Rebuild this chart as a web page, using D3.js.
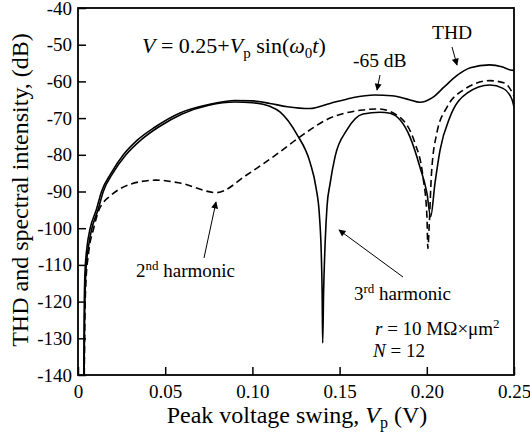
<!DOCTYPE html>
<meta charset="utf-8">

<head>
  <title>THD and harmonics vs peak voltage</title>
</head>

<body style="margin:0">
  <svg width="530" height="435" font-family="Liberation Serif"></svg>

  <script src="https://cdn.jsdelivr.net/npm/d3@7"></script>
  <script>
    // values: [Vp (V), dB]
    var thd = [
      [0.0033, -140], [0.0035, -125], [0.004, -112], [0.0052, -105], [0.007, -100],
      [0.0105, -95], [0.0135, -90], [0.019, -85], [0.026, -80], [0.034, -76],
      [0.044, -72.5], [0.0585, -68.6], [0.075, -66.3], [0.09, -65.2], [0.10, -65.3],
      [0.11, -66], [0.12, -66.9], [0.133, -67.4], [0.1445, -66], [0.157, -64.5],
      [0.17, -63.7], [0.18, -63.9], [0.19, -65], [0.196, -65.7], [0.203, -64.5],
      [0.21, -61.5], [0.217, -58.5], [0.225, -56.3], [0.236, -55.5], [0.243, -56],
      [0.248, -56.9], [0.25, -57]
    ];
    var harm2 = [
      [0.0036, -140], [0.0038, -130], [0.0045, -115], [0.006, -107], [0.009, -100],
      [0.0125, -94.5], [0.0142, -93.2], [0.018, -91.4], [0.03, -88], [0.0447, -86.9],
      [0.0585, -87.7], [0.0795, -90.3], [0.0967, -85.5], [0.1158, -79.2], [0.1273, -75.1],
      [0.1445, -70], [0.163, -67.8], [0.172, -67.5], [0.1829, -69.2], [0.1932, -76.8],
      [0.1978, -86], [0.2001, -97], [0.2006, -105.5], [0.2013, -100], [0.2027, -85],
      [0.2058, -74], [0.2116, -67], [0.2208, -62.4], [0.2362, -59.8], [0.2448, -60.5],
      [0.25, -64]
    ];
    var harm3 = [
      [0.0035, -140], [0.0038, -125], [0.0045, -112], [0.006, -105], [0.008, -100],
      [0.0115, -95], [0.0145, -90], [0.02, -85], [0.0275, -80], [0.036, -76],
      [0.046, -72.5], [0.06, -68.8], [0.075, -66.5], [0.09, -65.6], [0.10, -65.8],
      [0.11, -66.8], [0.1158, -68.3], [0.1256, -74.5], [0.133, -82], [0.1365, -89],
      [0.1385, -97], [0.1395, -107], [0.14, -118], [0.1403, -131.3], [0.1408, -118],
      [0.1418, -103], [0.1428, -94], [0.1445, -88], [0.1474, -80.5], [0.1541, -73.3],
      [0.1634, -68.9], [0.1732, -68.4], [0.1789, -68.7], [0.1904, -75.2], [0.1961, -83.4],
      [0.2001, -90.5], [0.2022, -96.9], [0.2047, -87.7], [0.2076, -78.7], [0.2133, -69.7],
      [0.2231, -63.2], [0.2362, -61], [0.2437, -61.9], [0.2489, -65], [0.25, -67]
    ];
    var xTicks = [0, 0.05, 0.10, 0.15, 0.20, 0.25];
    var xTickLabels = ['0', '0.05', '0.10', '0.15', '0.20', '0.25'];
    var yTicks = [-140, -130, -120, -110, -100, -90, -80, -70, -60, -50, -40];

    function font(size, italic) {
      return "font-family:'Liberation Serif';font-size:" + size + "px" +
        (italic ? ";font-style:italic" : "");
    }

    var xScale = d3.scaleLinear().domain([0, 0.25]).range([78, 514]);
    var yScale = d3.scaleLinear().domain([-140, -40]).range([375, 8]);

    var svg = d3.select('svg');

    svg.append('defs').append('clipPath').attr('id', 'plot')
      .append('rect')
      .attr('x', 78).attr('y', 8)
      .attr('width', 436).attr('height', 367);

    var lineGenerator = d3.line()
      .x(d => xScale(d[0]))
      .y(d => yScale(d[1]))
      .curve(d3.curveMonotoneX);

    var curves = svg.append('g').attr('clip-path', 'url(#plot)');
    curves.append('path').datum(harm2)
      .attr('d', lineGenerator)
      .attr('fill', 'none')
      .attr('stroke', '#000')
      .attr('stroke-width', 1.6)
      .attr('stroke-dasharray', '7,4');
    curves.append('path').datum(harm3)
      .attr('d', lineGenerator)
      .attr('fill', 'none')
      .attr('stroke', '#000')
      .attr('stroke-width', 1.6);
    curves.append('path').datum(thd)
      .attr('d', lineGenerator)
      .attr('fill', 'none')
      .attr('stroke', '#000')
      .attr('stroke-width', 1.6);

    // axes, ticks pointing inward
    var xAxis = svg.append('g')
      .attr('transform', 'translate(0, 375)')
      .call(d3.axisBottom(xScale)
        .tickValues(xTicks)
        .tickFormat((d, i) => xTickLabels[i])
        .tickSizeInner(-8)
        .tickSizeOuter(0)
        .tickPadding(10));
    var yAxis = svg.append('g')
      .attr('transform', 'translate(78, 0)')
      .call(d3.axisLeft(yScale)
        .tickValues(yTicks)
        .tickFormat(d => String(d))
        .tickSizeInner(-8)
        .tickSizeOuter(0)
        .tickPadding(6));
    [xAxis, yAxis].forEach(function (ax) {
      ax.attr('font-family', 'Liberation Serif');
      ax.select('.domain').remove();
      ax.selectAll('line').attr('stroke-width', 1.5);
      ax.selectAll('text').attr('style', font(19));
    });

    svg.append('rect')
      .attr('x', 78).attr('y', 8)
      .attr('width', 436).attr('height', 367)
      .attr('fill', 'none')
      .attr('stroke', '#000')
      .attr('stroke-width', 1.8);

    // axis titles
    var xt = svg.append('text')
      .attr('x', 297).attr('y', 423)
      .attr('text-anchor', 'middle')
      .attr('style', font(24));
    xt.append('tspan').text('Peak voltage swing, ');
    xt.append('tspan').attr('style', font(24, true)).text('V');
    xt.append('tspan').attr('dy', 5).attr('style', font(16)).text('p');
    xt.append('tspan').attr('dy', -5).text(' (V)');

    svg.append('text')
      .attr('transform', 'translate(28, 190) rotate(-90)')
      .attr('text-anchor', 'middle')
      .attr('style', font(24))
      .text('THD and spectral intensity, (dB)');

    // annotations
    var eq = svg.append('text')
      .attr('x', 142).attr('y', 53)
      .attr('style', font(22));
    eq.append('tspan').attr('style', font(22, true)).text('V');
    eq.append('tspan').text(' = 0.25+');
    eq.append('tspan').attr('style', font(22, true)).text('V');
    eq.append('tspan').attr('dy', 5).attr('style', font(15)).text('p');
    eq.append('tspan').attr('dy', -5).text(' sin(');
    eq.append('tspan').attr('style', font(22, true)).text('\u03C9');
    eq.append('tspan').attr('dy', 5).attr('style', font(15)).text('0');
    eq.append('tspan').attr('dy', -5).attr('style', font(22, true)).text('t');
    eq.append('tspan').text(')');

    svg.append('text').attr('x', 432).attr('y', 39)
      .attr('style', font(19.5)).text('THD');
    svg.append('text').attr('x', 353).attr('y', 67)
      .attr('style', font(19.5)).text('-65 dB');

    var h2 = svg.append('text').attr('x', 136).attr('y', 277).attr('style', font(19));
    h2.append('tspan').text('2');
    h2.append('tspan').attr('dy', -7).attr('style', font(13)).text('nd');
    h2.append('tspan').attr('dy', 7).text(' harmonic');

    var h3 = svg.append('text').attr('x', 354).attr('y', 300).attr('style', font(19));
    h3.append('tspan').text('3');
    h3.append('tspan').attr('dy', -7).attr('style', font(13)).text('rd');
    h3.append('tspan').attr('dy', 7).text(' harmonic');

    var rt = svg.append('text').attr('x', 375).attr('y', 335).attr('style', font(19));
    rt.append('tspan').attr('style', font(19, true)).text('r');
    rt.append('tspan').text(' = 10 M\u03A9\u00D7\u03BCm');
    rt.append('tspan').attr('dy', -7).attr('style', font(13)).text('2');

    var nt = svg.append('text').attr('x', 373).attr('y', 357).attr('style', font(19));
    nt.append('tspan').attr('style', font(19, true)).text('N');
    nt.append('tspan').text(' = 12');

    // arrows
    svg.append('defs').append('marker')
      .attr('id', 'head')
      .attr('viewBox', '0 0 10 10')
      .attr('refX', 9).attr('refY', 5)
      .attr('markerWidth', 9).attr('markerHeight', 7)
      .attr('markerUnits', 'userSpaceOnUse')
      .attr('orient', 'auto')
      .append('path')
      .attr('d', 'M0,0 L10,5 L0,10 Z')
      .attr('fill', '#000');

    var arrows = [
      [452, 47, 457, 65],
      [380, 75, 377, 90],
      [204, 258, 216, 202],
      [403, 277, 339, 230]
    ];
    svg.append('g').selectAll('line')
      .data(arrows)
      .enter()
      .append('line')
      .attr('x1', d => d[0]).attr('y1', d => d[1])
      .attr('x2', d => d[2]).attr('y2', d => d[3])
      .attr('stroke', '#000')
      .attr('stroke-width', 1)
      .attr('marker-end', 'url(#head)');
  </script>
</body>

</html>
